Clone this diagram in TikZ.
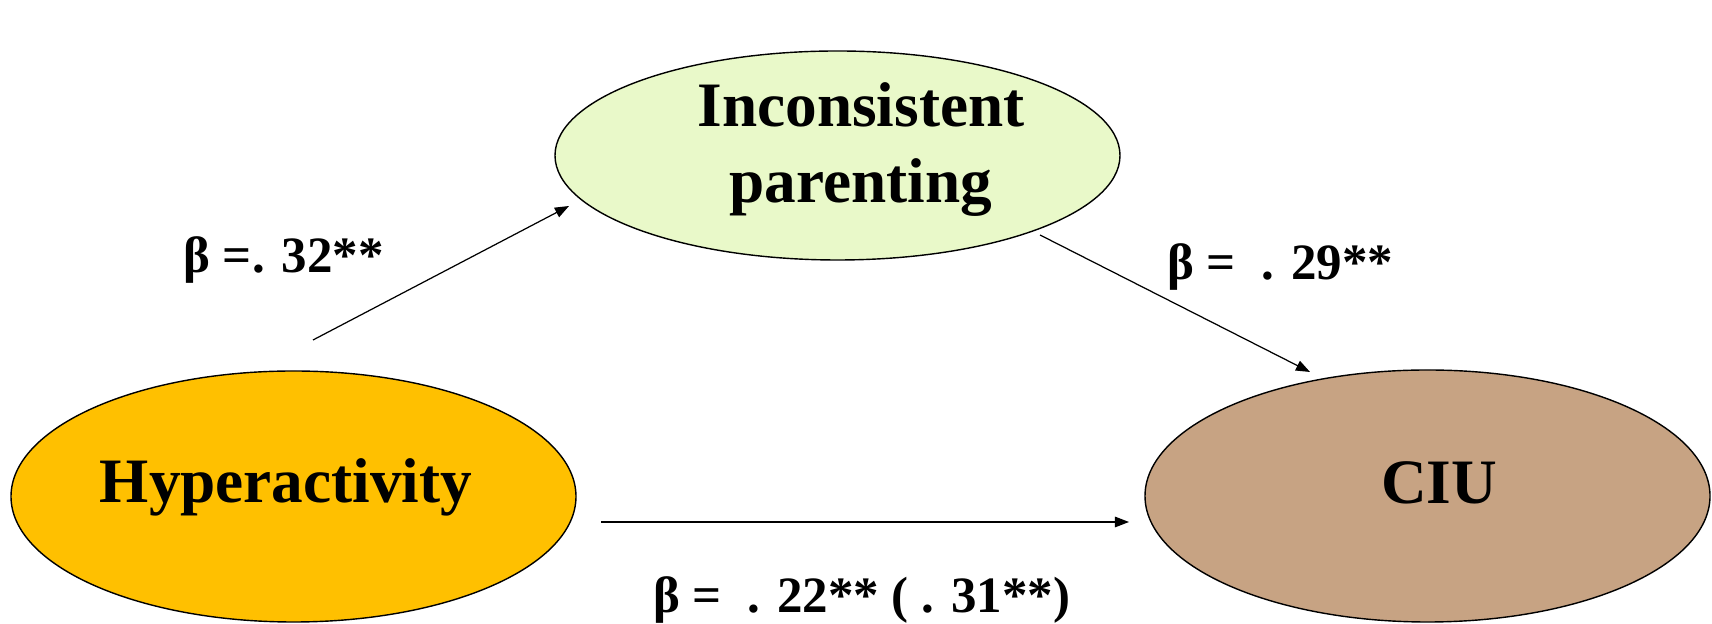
\documentclass[tikz,border=0pt]{standalone}
\usepackage{fontspec}
\setmainfont{Liberation Serif}
\usetikzlibrary{arrows.meta, shapes.geometric}
\definecolor{HypGold}{RGB}{255, 192, 0}
\definecolor{ParGreen}{RGB}{233, 249, 201}
\definecolor{CiuTan}{RGB}{199, 163, 131}

\begin{document}
\begin{tikzpicture}[
  blob/.style={ellipse, draw=black, line width=0.8pt, inner sep=0pt,
               minimum width=11.3cm},
  vartext/.style={font=\fontsize{36}{43.5}\selectfont\bfseries,
                  align=center, inner sep=0pt},
  coef/.style={font=\fontsize{29}{34}\selectfont\bfseries,
               anchor=base west, inner sep=0pt},
  arr/.style={-{Triangle[length=8pt, width=6pt]}, line width=0.7pt}
]
  \useasboundingbox (0,0) rectangle (34.24,12.48);

  \node[blob, fill=ParGreen, minimum height=4.18cm] (par) at (16.75, 9.37) {};
  \node[blob, fill=HypGold, minimum height=5.02cm]  (hyp) at (5.87, 2.55) {};
  \node[blob, fill=CiuTan, minimum height=5.04cm]   (ciu) at (28.55, 2.56) {};

  \node[vartext, anchor=north] (partxt) at (17.22, 10.84) {Inconsistent\\parenting};
  \node[vartext, anchor=base]  (hyptxt) at (5.72, 2.42) {Hyperactivity};
  \node[vartext, anchor=base]  (ciutxt) at (28.78, 2.40) {CIU};

  % free ends of the paths
  \coordinate (a1s) at (6.26, 5.68);
  \coordinate (a1e) at (11.38, 8.36);
  \coordinate (a2s) at (20.80, 7.78);
  \coordinate (a2e) at (26.20, 5.04);
  \coordinate (a3s) at (12.02, 2.04);
  \coordinate (a3e) at (22.58, 2.04);

  \draw[arr] (a1s) -- (a1e);
  \draw[arr] (a2s) -- (a2e);
  \draw[arr] (a3s) -- (a3e);

  \node[coef] (b1) at (3.66, 7.02)  {β =. 32**};
  \node[coef] (b2) at (23.34, 6.88) {β =\ \ . 29**};
  \node[coef] (b3) at (13.06, 0.22) {β =\ \ . 22** ( . 31**)};
\end{tikzpicture}
\end{document}
